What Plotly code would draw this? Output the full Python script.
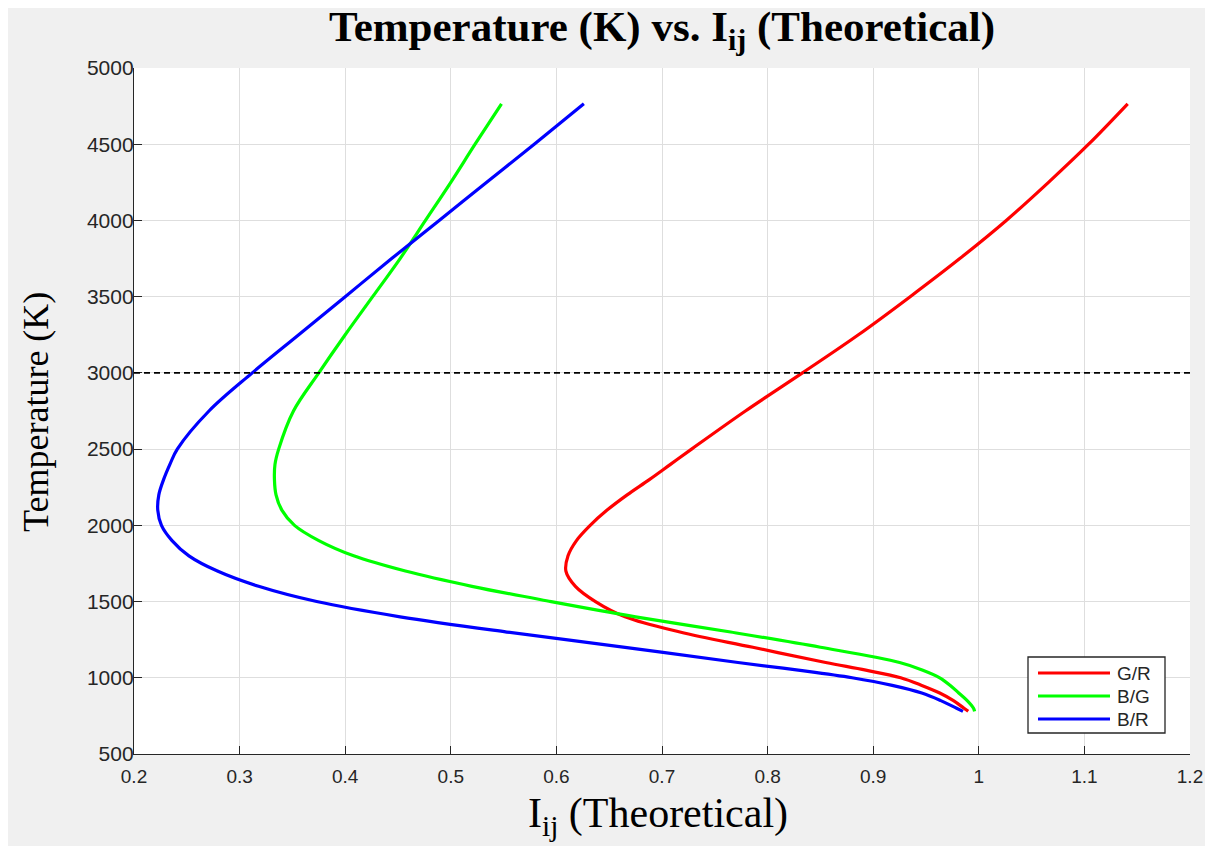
import plotly.graph_objects as go

# ---------------- data ----------------
temperature = [780, 800, 850, 900, 950, 1000, 1050, 1100, 1200, 1300, 1400, 1500, 1600,
               1700, 1800, 1900, 2000, 2100, 2200, 2300, 2400, 2500, 2750, 3000,
               3250, 3500, 3750, 4000, 4250, 4500, 4765]

g_over_r = [0.990, 0.986, 0.976, 0.963, 0.946, 0.926, 0.893, 0.855, 0.786, 0.717, 0.665,
            0.637, 0.618, 0.609, 0.611, 0.619, 0.632, 0.648, 0.667, 0.688, 0.708,
            0.728, 0.779, 0.833, 0.886, 0.935, 0.982, 1.026, 1.066, 1.104, 1.141]

b_over_g = [0.996, 0.995, 0.989, 0.981, 0.973, 0.963, 0.947, 0.925, 0.850, 0.765, 0.675,
            0.595, 0.520, 0.457, 0.408, 0.375, 0.352, 0.340, 0.3345, 0.333, 0.3335,
            0.337, 0.351, 0.375, 0.400, 0.426, 0.452, 0.476, 0.500, 0.523, 0.548]

b_over_r = [0.985, 0.979, 0.964, 0.946, 0.918, 0.880, 0.829, 0.772, 0.665, 0.553, 0.452,
            0.373, 0.318, 0.279, 0.252, 0.236, 0.226, 0.2225, 0.2235, 0.228, 0.234,
            0.241, 0.271, 0.312, 0.356, 0.400, 0.444, 0.489, 0.534, 0.579, 0.626]

series_names = ["G/R", "B/G", "B/R"]
series_colors = ["#ff0000", "#00ff00", "#0000ff"]
threshold_temperature = 3000

x_ticks = [0.2, 0.3, 0.4, 0.5, 0.6, 0.7, 0.8, 0.9, 1.0, 1.1, 1.2]
x_tick_labels = ["0.2", "0.3", "0.4", "0.5", "0.6", "0.7", "0.8", "0.9", "1", "1.1", "1.2"]
y_ticks = [500, 1000, 1500, 2000, 2500, 3000, 3500, 4000, 4500, 5000]
y_tick_labels = [str(v) for v in y_ticks]

# ---------------- layout geometry (figure pixels; page adds an 8px body margin) ----------------
W, H = 1197, 838
L, R, T, B = 126, 15, 60, 92
PW, PH = W - L - R, H - T - B
OFF = 8  # html body margin


def px_x(page_px):
    return (page_px - OFF - L) / PW


def px_y(page_py):
    return (H - B - (page_py - OFF)) / PH


fig = go.Figure()
for name, color, xs in zip(series_names, series_colors, [g_over_r, b_over_g, b_over_r]):
    fig.add_trace(go.Scatter(
        x=xs, y=temperature, mode="lines", name=name, showlegend=False,
        line=dict(color=color, width=3.2, shape="spline", smoothing=1.0),
    ))

axis_common = dict(
    showline=True, linecolor="#262626", linewidth=1.3, mirror=False,
    ticks="inside", ticklen=8, tickwidth=1.3, tickcolor="#262626",
    showgrid=True, gridcolor="#dedede", gridwidth=1, zeroline=False,
)

fig.update_layout(
    width=W, height=H,
    margin=dict(l=L, r=R, t=T, b=B, autoexpand=False),
    paper_bgcolor="#f0f0f0",
    plot_bgcolor="#ffffff",
    showlegend=False,
    title=dict(
        text="<b>Temperature (K) vs. I<sub>ij</sub> (Theoretical)</b>",
        x=0.5, xref="paper", xanchor="center",
        y=1 - 18 / H, yref="container", yanchor="middle",
        font=dict(family="Liberation Serif, Times New Roman, serif", size=43, color="#000000"),
    ),
    xaxis=dict(range=[0.2, 1.2], tickvals=x_ticks, ticktext=x_tick_labels,
               ticklabelstandoff=5,
               tickfont=dict(family="Liberation Sans, Arial, sans-serif", size=19, color="#262626"),
               **axis_common),
    yaxis=dict(range=[500, 5000], tickvals=y_ticks, ticktext=y_tick_labels,
               ticklabelstandoff=-5,
               tickfont=dict(family="Liberation Sans, Arial, sans-serif", size=21, color="#262626"),
               **axis_common),
)

# dashed reference line at the threshold temperature
fig.add_shape(type="line", xref="paper", yref="y", x0=0, x1=1,
              y0=threshold_temperature, y1=threshold_temperature,
              line=dict(color="#000000", width=1.6, dash="6px,4px"), layer="above")

# legend box (MATLAB style: long line samples)
fig.add_shape(type="rect", xref="paper", yref="paper",
              x0=px_x(1028), x1=px_x(1165), y0=px_y(733), y1=px_y(657),
              fillcolor="#ffffff", line=dict(color="#262626", width=1.3), layer="above")
legend_rows = [673, 696, 719]
for name, color, row in zip(series_names, series_colors, legend_rows):
    fig.add_shape(type="line", xref="paper", yref="paper",
                  x0=px_x(1038), x1=px_x(1110), y0=px_y(row), y1=px_y(row),
                  line=dict(color=color, width=3.2), layer="above")
    fig.add_annotation(text=name, xref="paper", yref="paper",
                       x=px_x(1115), y=px_y(row), xanchor="left", yanchor="middle",
                       showarrow=False,
                       font=dict(family="Liberation Sans, Arial, sans-serif", size=19,
                                 color="#262626"))

# axis titles
fig.add_annotation(
    text="I<sub>ij</sub> (Theoretical)", xref="paper", yref="paper",
    x=px_x(658), y=px_y(788), xanchor="center", yanchor="top", showarrow=False,
    font=dict(family="Liberation Serif, Times New Roman, serif", size=42, color="#000000"),
)
fig.add_annotation(
    text="Temperature (K)", xref="paper", yref="paper", textangle=-90,
    x=px_x(36), y=px_y(412), xanchor="center", yanchor="middle", showarrow=False,
    font=dict(family="Liberation Serif, Times New Roman, serif", size=36, color="#000000"),
)

fig.write_html("out.html")
